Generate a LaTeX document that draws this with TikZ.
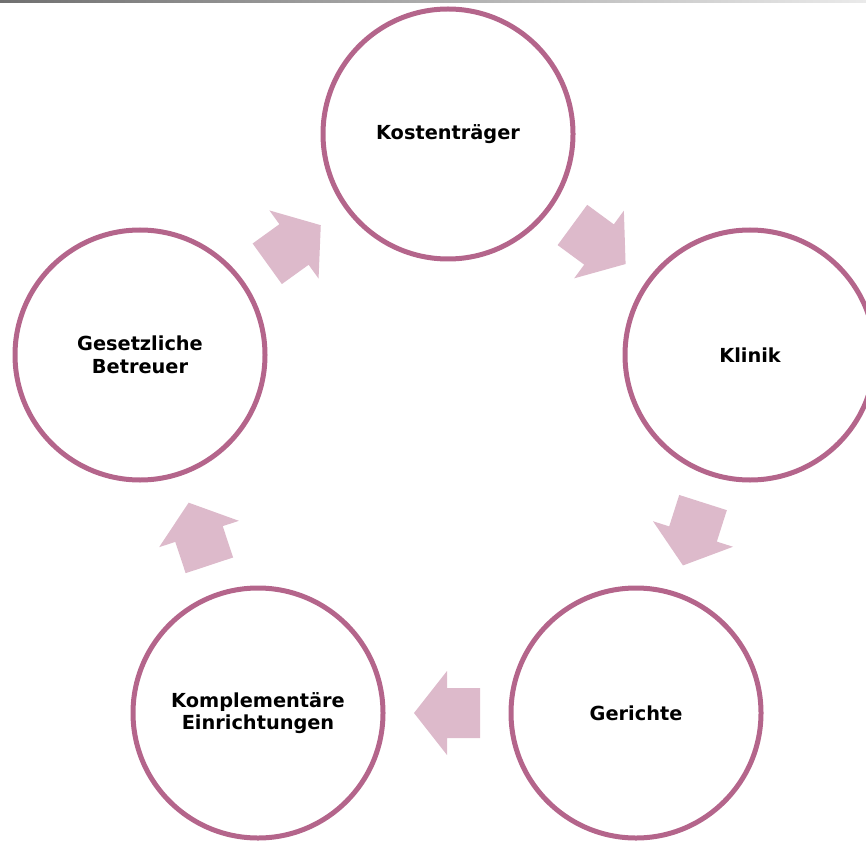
\documentclass[tikz,border=0pt]{standalone}
\usepackage{fontspec}
\setmainfont{DejaVu Sans}
\usetikzlibrary{calc}
\definecolor{ringc}{HTML}{B4658B}
\definecolor{arrowc}{HTML}{DDBACB}
\definecolor{topdark}{HTML}{707070}
\definecolor{toplight}{HTML}{EAEAEA}
\begin{document}
\begin{tikzpicture}[x=0.75pt,y=-0.75pt,
  ring/.style={circle, draw=ringc, line width=3.75pt, minimum size=187.5pt, inner sep=0pt,
    font=\bfseries\fontsize{14.5}{17}\selectfont, align=center, text=black},
  blockarrow/.style={fill=arrowc, draw=none}]
\useasboundingbox (0,0) rectangle (866,841);
\clip (0,0) rectangle (866,841);
\shade[left color=topdark, right color=toplight] (0,0) rectangle (866,2.5);

\node[ring] (k)  at (448,134) {Kostenträger};
\node[ring] (kl) at (750,355) {Klinik};
\node[ring] (g)  at (636,713) {Gerichte};
\node[ring] (ko) at (258,713) {Komplementäre\\Einrichtungen};
\node[ring] (ge) at (140,355) {Gesetzliche\\Betreuer};

\newcommand\blockarr[3]{%
  \begin{scope}[shift={($(#1)!0.5!(#2)$)}, rotate=#3]
    \fill[blockarrow] (-33,-25) -- (0,-25) -- (0,-42) -- (33,0) -- (0,42) -- (0,25) -- (-33,25) -- cycle;
  \end{scope}}
\blockarr{k}{kl}{-36.3}
\blockarr{kl}{g}{-107.7}
\blockarr{g}{ko}{180}
\blockarr{ko}{ge}{108.3}
\blockarr{ge}{k}{35.8}
\end{tikzpicture}
\end{document}
